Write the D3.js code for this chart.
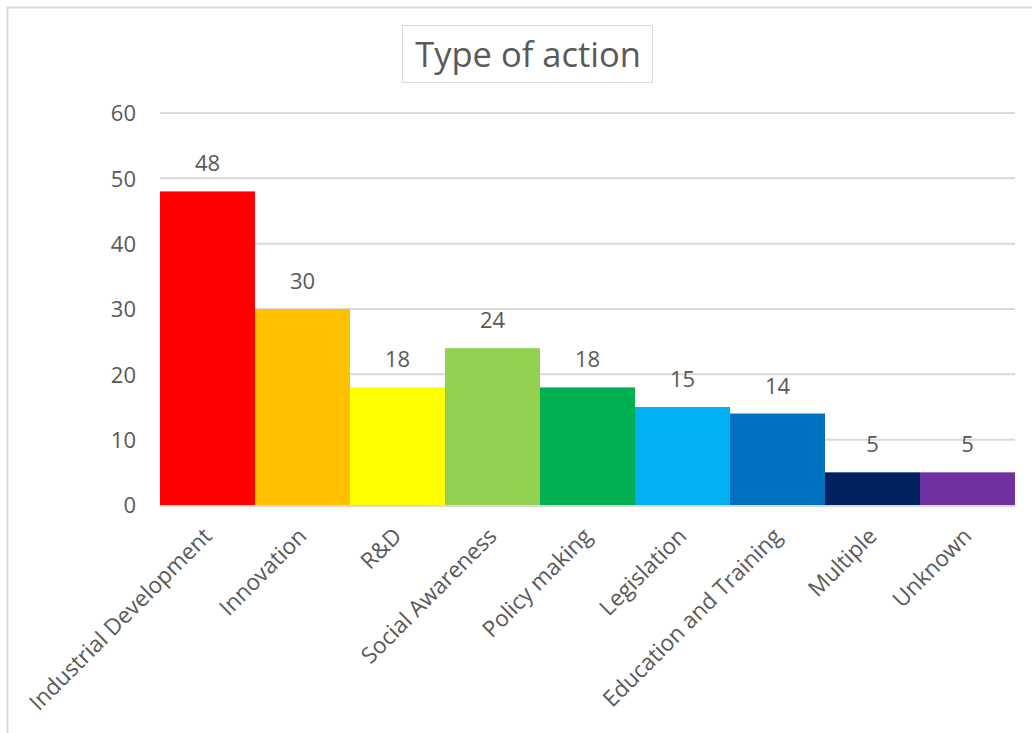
<!DOCTYPE html>
<html>
<head>
<meta charset="utf-8">
<script src="https://cdn.jsdelivr.net/npm/d3@7/dist/d3.min.js"></script>
<style>
  html, body { margin: 0; padding: 0; background: #fff; }
  svg, svg text { font-family: "Open Sans", "Noto Sans", sans-serif; }
  svg { display: block; }
</style>
</head>
<body>
<svg id="chart" width="1032" height="733"></svg>
<script>
// Number of actions per type
const categories = ["Industrial Development", "Innovation", "R&D", "Social Awareness",
  "Policy making", "Legislation", "Education and Training", "Multiple", "Unknown"];
const values = [48, 30, 18, 24, 18, 15, 14, 5, 5];
const colors = ["#FF0000", "#FFC000", "#FFFF00", "#92D050", "#00B050",
  "#00B0F0", "#0070C0", "#002060", "#7030A0"];
const yTicks = [0, 10, 20, 30, 40, 50, 60];

const svg = d3.select("#chart");
const textColor = "#595959";

// Chart frame
svg.append("rect")
  .attr("x", 7.5).attr("y", 7.5)
  .attr("width", 1040).attr("height", 740)
  .attr("fill", "#fff")
  .attr("stroke", "#d9d9d9").attr("stroke-width", 2);

const plot = { left: 160, right: 1015, top: 113, bottom: 505 };

const x = d3.scaleBand()
  .domain(categories)
  .range([plot.left, plot.right])
  .paddingInner(0).paddingOuter(0);

const y = d3.scaleLinear()
  .domain([0, 60])
  .range([plot.bottom, plot.top]);

// Gridlines
svg.append("g")
  .selectAll("line")
  .data(yTicks.filter(d => d > 0))
  .join("line")
  .attr("x1", plot.left).attr("x2", plot.right)
  .attr("y1", d => y(d)).attr("y2", d => y(d))
  .attr("stroke", "#d9d9d9").attr("stroke-width", 2);

// Y axis labels
const yAxis = d3.axisLeft(y).tickValues(yTicks).tickSize(0).tickPadding(0);
const yg = svg.append("g")
  .attr("transform", `translate(${plot.left - 24},0)`)
  .call(yAxis)
  .attr("font-family", null).attr("font-size", null);
yg.select(".domain").remove();
yg.selectAll("text")
  .attr("fill", textColor)
  .style("font-size", "22px")
  .attr("dy", "0.35em");

// Bars
svg.append("g")
  .selectAll("rect")
  .data(values)
  .join("rect")
  .attr("x", (d, i) => x(categories[i]))
  .attr("y", d => y(d))
  .attr("width", x.bandwidth())
  .attr("height", d => y(0) - y(d))
  .attr("fill", (d, i) => colors[i]);

// Baseline
svg.append("line")
  .attr("x1", plot.left).attr("x2", plot.right)
  .attr("y1", plot.bottom + 1).attr("y2", plot.bottom + 1)
  .attr("stroke", "#d9d9d9").attr("stroke-width", 2);

// Value labels
svg.append("g")
  .selectAll("text")
  .data(values)
  .join("text")
  .attr("x", (d, i) => x(categories[i]) + x.bandwidth() / 2)
  .attr("y", d => y(d) - 20)
  .attr("text-anchor", "middle")
  .attr("fill", textColor)
  .style("font-size", "22px")
  .text(d => d);

// Category labels, rotated
const xAxis = d3.axisBottom(x).tickSize(0).tickPadding(0);
const xg = svg.append("g")
  .attr("transform", `translate(0,${plot.bottom})`)
  .call(xAxis)
  .attr("font-family", null).attr("font-size", null);
xg.select(".domain").remove();
xg.selectAll("text")
  .attr("fill", textColor)
  .style("font-size", "22.5px")
  .attr("text-anchor", "end")
  .attr("dy", "0.35em")
  .attr("transform", "translate(0,27) rotate(-45)");

// Title with box
const title = svg.append("g");
title.append("rect")
  .attr("x", 402.5).attr("y", 25.5)
  .attr("width", 250).attr("height", 57)
  .attr("fill", "#fff")
  .attr("stroke", "#d9d9d9").attr("stroke-width", 1);
title.append("text")
  .attr("x", 528).attr("y", 67)
  .attr("text-anchor", "middle")
  .attr("fill", textColor)
  .style("font-size", "34.5px")
  .text("Type of action");
</script>
</body>
</html>
